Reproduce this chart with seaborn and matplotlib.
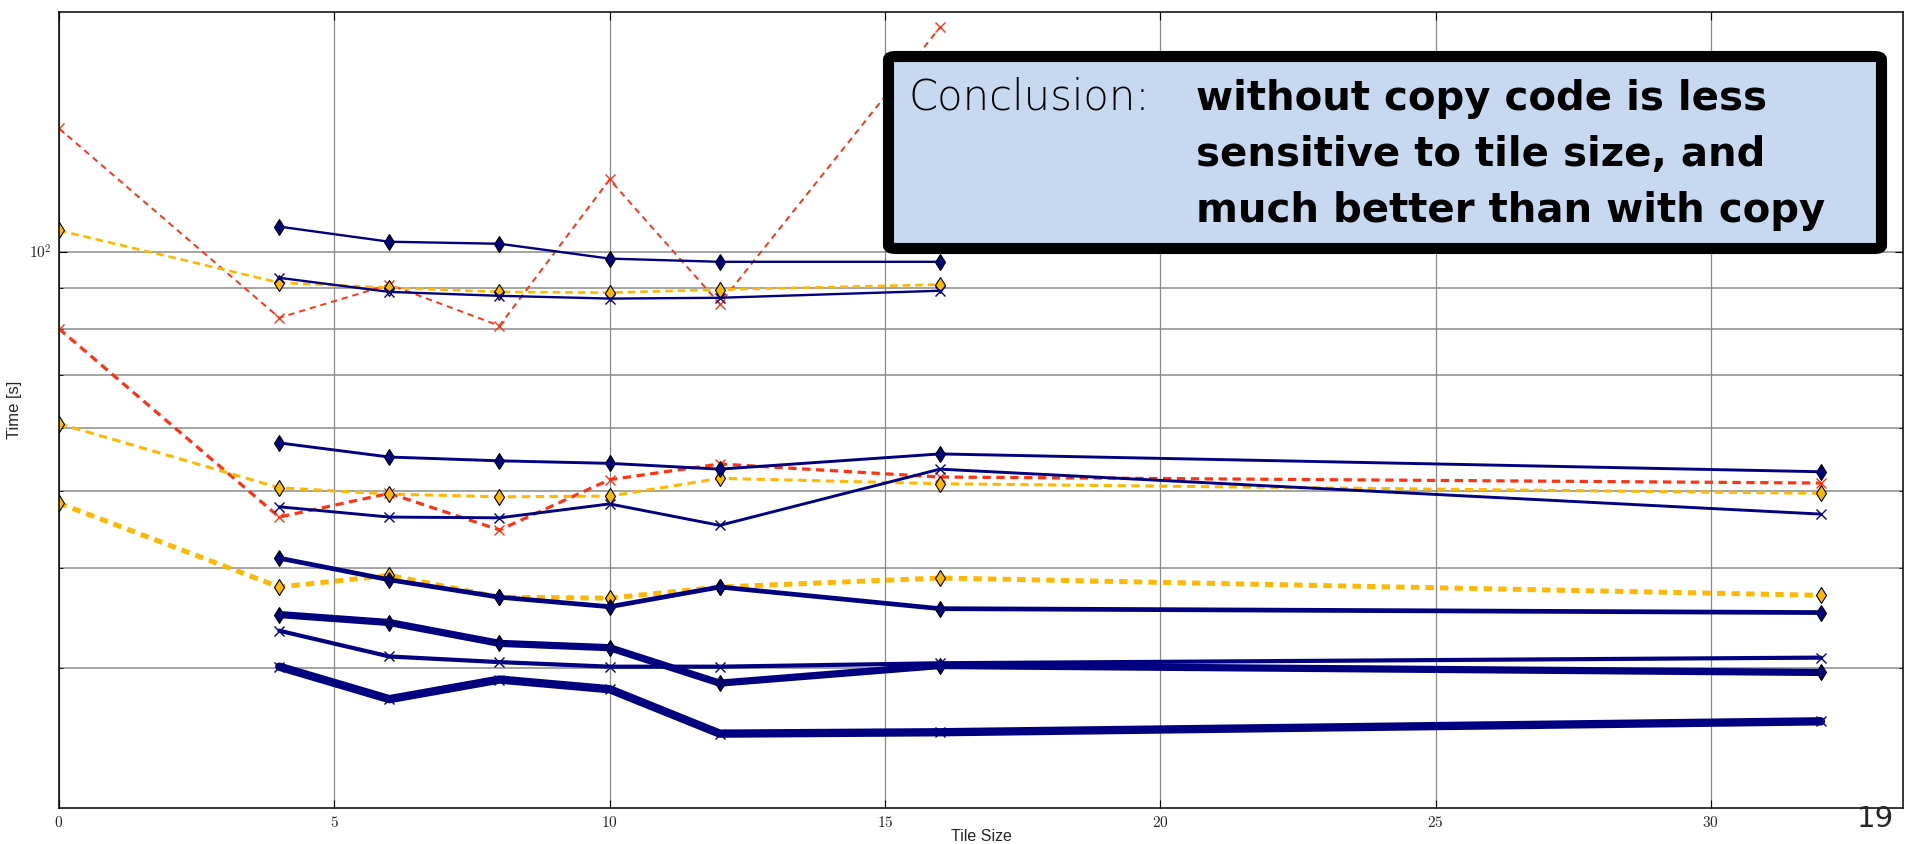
import matplotlib
matplotlib.use("Agg")
import matplotlib.pyplot as plt
from matplotlib.patches import FancyBboxPatch
from matplotlib.ticker import FixedLocator, FixedFormatter, NullFormatter, NullLocator
import seaborn as sns

# tile sizes used by each group of runs
x_copy_top = [0, 4, 6, 8, 10, 12, 16]
x_nocopy_top = [4, 6, 8, 10, 12, 16]
x_copy = [0, 4, 6, 8, 10, 12, 16, 32]
x_nocopy = [4, 6, 8, 10, 12, 16, 32]

# run times [s]
red_top = [142.8, 82.6, 90.9, 80.7, 123.2, 86.0, 191.3]
orange_top = [106.3, 91.4, 90.1, 89.0, 88.8, 89.6, 90.9]
navy_d_top = [107.5, 102.9, 102.3, 98.0, 97.1, 97.1]
navy_x_top = [92.7, 89.0, 88.0, 87.3, 87.5, 89.3]

red_mid = [80.0, 46.4, 49.7, 44.7, 51.7, 54.1, 52.1, 51.2]
orange_mid = [60.8, 50.5, 49.6, 49.2, 49.3, 51.9, 51.1, 49.7]
navy_d_mid = [57.5, 55.2, 54.6, 54.2, 53.3, 55.7, 52.9]
navy_x_mid = [47.8, 46.4, 46.3, 48.2, 45.3, 53.3, 46.8]

orange_low = [48.3, 37.9, 39.2, 36.8, 36.7, 37.9, 38.9, 37.0]
navy_d_low1 = [41.2, 38.7, 36.8, 35.8, 37.9, 35.6, 35.2]
navy_d_low2 = [35.0, 34.2, 32.2, 31.8, 28.7, 30.2, 29.6]
navy_x_low1 = [33.4, 31.0, 30.5, 30.1, 30.1, 30.4, 30.9]
navy_x_low2 = [30.1, 27.4, 29.0, 28.2, 24.8, 24.9, 25.7]

xticks = [0, 5, 10, 15, 20, 25, 30]
xtick_labels = ["$0$", "$5$", "$10$", "$15$", "$20$", "$25$", "$30$"]
ymajor = [100]
ymajor_labels = ["$10^2$"]
yminor = [30, 40, 50, 60, 70, 80, 90]

conclusion_head = "Conclusion:"
conclusion_lines = ["without copy code is less",
                    "sensitive to tile size, and",
                    "much better than with copy"]

NAVY = "#000080"
RED = "#FF3314"
ORANGE = "#FFB800"
W, H = 1907, 844

sns.set_style("ticks")
plt.rcParams["mathtext.fontset"] = "cm"
plt.rcParams["lines.scale_dashes"] = False
plt.rcParams["font.family"] = ["Liberation Sans", "DejaVu Sans"]


def fx(px):
    return px / W


def fy(py):
    return 1 - py / H


def draw(ax, x, y, color, lw, marker, dash=None, face=None):
    ls = (0, dash) if dash else "-"
    if marker == "d":
        ms, mec, mew = 8, "black", 0.8
    else:
        ms, mec, mew = 7, color, 1.0
    sns.lineplot(x=x, y=y, ax=ax, color=color, linewidth=lw, linestyle=ls,
                 marker=marker, markersize=ms,
                 markerfacecolor=face if face else color,
                 markeredgecolor=mec, markeredgewidth=mew,
                 sort=False, estimator=None, legend=False)


fig = plt.figure(figsize=(W / 100, H / 100), dpi=100)
ax = fig.add_axes([fx(59), fy(808), (1903 - 59) / W, (808 - 12) / H])

# top group
draw(ax, x_copy_top, red_top, RED, 1.4, "x", dash=(4.5, 3.5))
draw(ax, x_copy_top, orange_top, ORANGE, 1.9, "d", dash=(5.5, 3.5))
draw(ax, x_nocopy_top, navy_d_top, NAVY, 1.7, "d")
draw(ax, x_nocopy_top, navy_x_top, NAVY, 1.7, "x")
# middle group
draw(ax, x_copy, red_mid, RED, 2.3, "x", dash=(6, 4))
draw(ax, x_copy, orange_mid, ORANGE, 2.2, "d", dash=(6, 4))
draw(ax, x_nocopy, navy_d_mid, NAVY, 2.1, "d")
draw(ax, x_nocopy, navy_x_mid, NAVY, 2.1, "x")
# lower group
draw(ax, x_copy, orange_low, ORANGE, 3.6, "d", dash=(6, 4.5))
draw(ax, x_nocopy, navy_d_low1, NAVY, 3.4, "d")
draw(ax, x_nocopy, navy_d_low2, NAVY, 5.2, "d")
draw(ax, x_nocopy, navy_x_low1, NAVY, 3.0, "x")
draw(ax, x_nocopy, navy_x_low2, NAVY, 6.0, "x")

ax.set_yscale("log")
ax.set_ylim(20, 200)
ax.set_xlim(0, 33.49)

ax.xaxis.set_major_locator(FixedLocator(xticks))
ax.xaxis.set_major_formatter(FixedFormatter(xtick_labels))
ax.xaxis.set_minor_locator(NullLocator())
ax.yaxis.set_major_locator(FixedLocator(ymajor))
ax.yaxis.set_major_formatter(FixedFormatter(ymajor_labels))
ax.yaxis.set_minor_locator(FixedLocator(yminor))
ax.yaxis.set_minor_formatter(NullFormatter())

ax.tick_params(which="both", direction="in", top=True, right=True,
               labelsize=11, color="black")
ax.tick_params(which="major", length=6, width=0.8, pad=5)
ax.tick_params(which="minor", length=3, width=0.6)
ax.grid(True, which="major", axis="x", color="#8a8a8a", lw=0.9)
ax.grid(True, which="both", axis="y", color="#8a8a8a", lw=1.1)
ax.set_axisbelow(True)
for s in ax.spines.values():
    s.set_color("black")
    s.set_linewidth(1.1)

ax.set_ylabel("Time [s]", fontsize=12, va="center")
ax.yaxis.set_label_coords(-0.024, 0.5)
ax.set_xlabel("Tile Size", fontsize=11.5, va="center")
ax.xaxis.set_label_coords(0.5, -0.036)

# conclusion box over the plot
box = FancyBboxPatch((fx(888.5), fy(248.5)), (1881.5 - 888.5) / W,
                     (248.5 - 56.5) / H,
                     boxstyle="round,pad=0,rounding_size=0.004",
                     transform=fig.transFigure, fc="#C6D9F0", ec="black",
                     lw=8, zorder=5)
fig.add_artist(box)
fig.text(fx(909), fy(110), conclusion_head, fontsize=30,
         family="DejaVu Sans", weight="light", color="black",
         va="baseline", zorder=6)
for i, line in enumerate(conclusion_lines):
    fig.text(fx(1196), fy(110 + 56 * i), line, fontsize=29,
             family="DejaVu Sans", weight="bold", color="black",
             va="baseline", zorder=6)

fig.text(fx(1875), fy(827), "19", ha="center", va="baseline", fontsize=21,
         family="DejaVu Sans")

fig.savefig("out.png", dpi=100)
